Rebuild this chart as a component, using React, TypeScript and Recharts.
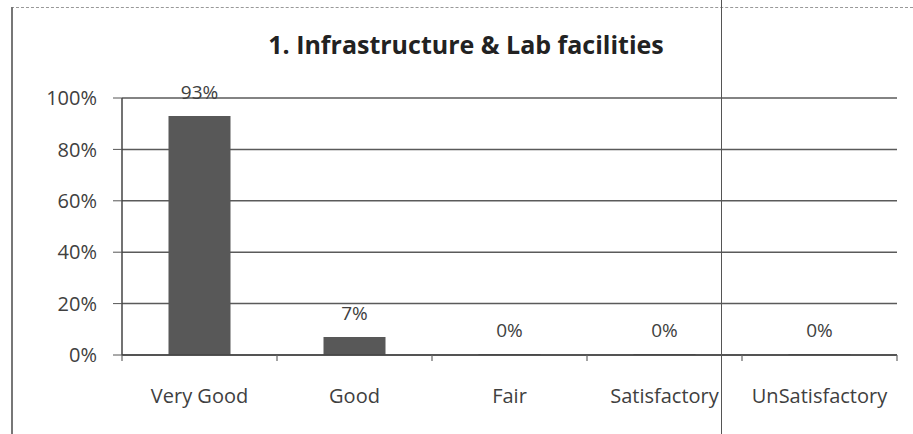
import React from "react";
import {
  Bar,
  BarChart,
  CartesianGrid,
  LabelList,
  XAxis,
  YAxis,
} from "recharts";

const categories = ["Very Good", "Good", "Fair", "Satisfactory", "UnSatisfactory"];
const shares = [0.93, 0.07, 0, 0, 0];
const yTicks = [0, 0.2, 0.4, 0.6, 0.8, 1];
const boundaryTicks = [0, 1, 2, 3, 4, 5];

const data = categories.map((name, i) => ({ name, value: shares[i], pos: i + 0.5 }));

const pct = (v: number) => `${Math.round(v * 100)}%`;
const FONT = "'Open Sans', sans-serif";
const INK = "#404040";

export default function App() {
  return (
    <div
      style={{
        position: "absolute",
        left: 0,
        top: 0,
        width: 913,
        height: 434,
        background: "#fff",
        fontFamily: FONT,
        overflow: "hidden",
      }}
    >
      {/* scanned frame: dashed top edge, solid left edge, page fold line */}
      <div style={{ position: "absolute", left: 11, top: 7, right: 0, borderTop: "1.5px dashed #999" }} />
      <div style={{ position: "absolute", left: 11, top: 7, bottom: 0, borderLeft: "2px solid #777" }} />
      <div style={{ position: "absolute", left: 721, top: 0, bottom: 0, borderLeft: "1.5px solid #555", zIndex: 2 }} />

      <div
        style={{
          position: "absolute",
          left: 0,
          width: 932,
          top: 27,
          textAlign: "center",
          fontSize: 25,
          fontWeight: 700,
          color: "#222",
        }}
      >
        1. Infrastructure &amp; Lab facilities
      </div>

      <BarChart
        width={913}
        height={434}
        data={data}
        margin={{ top: 98, right: 16, bottom: 0, left: 0 }}
        barCategoryGap="30%"
      >
        <CartesianGrid
          xAxisId="cat"
          vertical={false}
          stroke="#5a5a5a"
          strokeWidth={1.5}
        />
        {/* category boundary tick marks, as in the spreadsheet chart */}
        <XAxis
          xAxisId="base"
          type="number"
          dataKey="pos"
          domain={[0, 5]}
          ticks={boundaryTicks}
          interval={0}
          height={1}
          tickFormatter={() => " "}
          tickSize={6}
          tickLine={{ stroke: "#666", strokeWidth: 1.2 }}
          axisLine={{ stroke: "#444", strokeWidth: 1.5 }}
        />
        <XAxis
          xAxisId="cat"
          dataKey="name"
          height={78}
          axisLine={false}
          tickLine={false}
          tickSize={0}
          tickMargin={33}
          interval={0}
          tick={{ fill: INK, fontSize: 20, fontFamily: FONT }}
        />
        <YAxis
          domain={[0, 1]}
          ticks={yTicks}
          width={122}
          tickFormatter={pct}
          tickSize={9}
          tickMargin={16}
          tickLine={{ stroke: "#555" }}
          axisLine={{ stroke: "#444", strokeWidth: 1.5 }}
          tick={{ fill: INK, fontSize: 20, fontFamily: FONT }}
        />
        <Bar
          xAxisId="cat"
          dataKey="value"
          fill="#585858"
          minPointSize={1}
          isAnimationActive={false}
        >
          <LabelList
            dataKey="value"
            position="top"
            offset={17}
            formatter={(v: any) => pct(Number(v))}
            style={{ fill: INK, fontSize: 19, fontFamily: FONT }}
          />
        </Bar>
      </BarChart>
    </div>
  );
}
